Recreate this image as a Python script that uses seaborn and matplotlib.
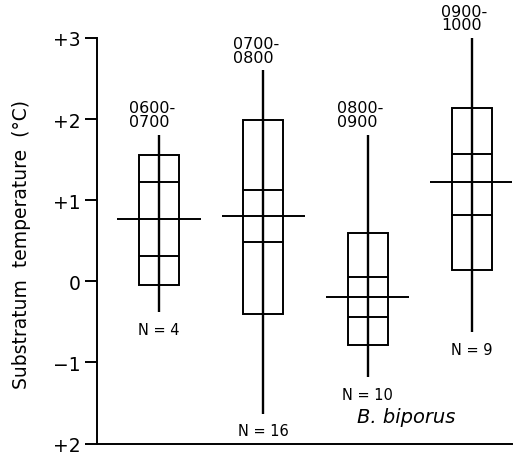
import matplotlib
matplotlib.use("Agg")
import matplotlib.pyplot as plt
import seaborn as sns
import numpy as np

# ---- data ----
periods = ["0600-\n0700", "0700-\n0800", "0800-\n0900", "0900-\n1000"]
n_labels = ["N = 4", "N = 16", "N = 10", "N = 9"]
means = [0.77, 0.81, -0.19, 1.22]
range_min = [-0.38, -1.63, -1.18, -0.63]
range_max = [1.81, 2.60, 1.81, 3.00]
box_lo = [-0.04, -0.40, -0.79, 0.14]
box_hi = [1.56, 1.99, 0.60, 2.14]
inner_lo = [0.31, 0.49, -0.44, 0.82]
inner_hi = [1.22, 1.13, 0.05, 1.57]
ytick_values = [3, 2, 1, 0, -1, -2]
ytick_labels = ["+3", "+2", "+1", "0", "\u22121", "+2"]
species = "B. biporus"
ylabel = "Substratum  temperature  (\u00b0C)"

sns.set_theme(style="ticks")
plt.rcParams["font.family"] = ["DejaVu Sans"]
plt.rcParams["text.color"] = "black"
plt.rcParams["ytick.color"] = "black"
plt.rcParams["axes.labelcolor"] = "black"

fig = plt.figure(figsize=(5.15, 4.56), dpi=100)
ax = fig.add_axes([0.1883, 0.025, 0.806, 0.8895])

pos = np.arange(len(periods))
box_w = 0.384
mean_w = 0.80
lw = 1.4

# boxes
ax.bar(pos, np.array(box_hi) - np.array(box_lo), bottom=box_lo, width=box_w,
       fill=False, edgecolor="black", linewidth=lw, zorder=2)
# inner lines
ax.hlines(inner_hi, pos - box_w / 2, pos + box_w / 2, color="black", linewidth=lw, zorder=3)
ax.hlines(inner_lo, pos - box_w / 2, pos + box_w / 2, color="black", linewidth=lw, zorder=3)
# range whiskers
ax.vlines(pos, range_min, range_max, color="black", linewidth=lw + 0.3, zorder=3)
# mean lines
ax.hlines(means, pos - mean_w / 2, pos + mean_w / 2, color="black", linewidth=lw, zorder=3)

# labels above and below
for i in range(len(periods)):
    ax.annotate(periods[i], xy=(pos[i] - 0.07, range_max[i]), xytext=(0, 4),
                textcoords="offset points", ha="center", va="bottom",
                fontsize=11.5, linespacing=0.9, multialignment="left",
                annotation_clip=False)
    ax.annotate(n_labels[i], xy=(pos[i], range_min[i]), xytext=(0, -7),
                textcoords="offset points", ha="center", va="top",
                fontsize=10.5, annotation_clip=False)

ax.text(2.37, -1.66, species, style="italic", fontsize=14, ha="center", va="center")

ax.set_xlim(-0.594, 3.385)
ax.set_ylim(-2, 3)
ax.set_xticks([])
ax.set_yticks(ytick_values)
ax.set_yticklabels(ytick_labels, fontsize=13.5)
ax.tick_params(axis="y", direction="out", length=8.5, width=1.4, pad=3, color="black")
ax.set_ylabel(ylabel, fontsize=13.5)
ax.yaxis.set_label_coords(-0.16, 0.494)

sns.despine(ax=ax)
for s in ["left", "bottom"]:
    ax.spines[s].set_linewidth(1.4)
    ax.spines[s].set_color("black")
ax.set_facecolor("white")
fig.patch.set_facecolor("white")

fig.savefig("out.png", dpi=100)
